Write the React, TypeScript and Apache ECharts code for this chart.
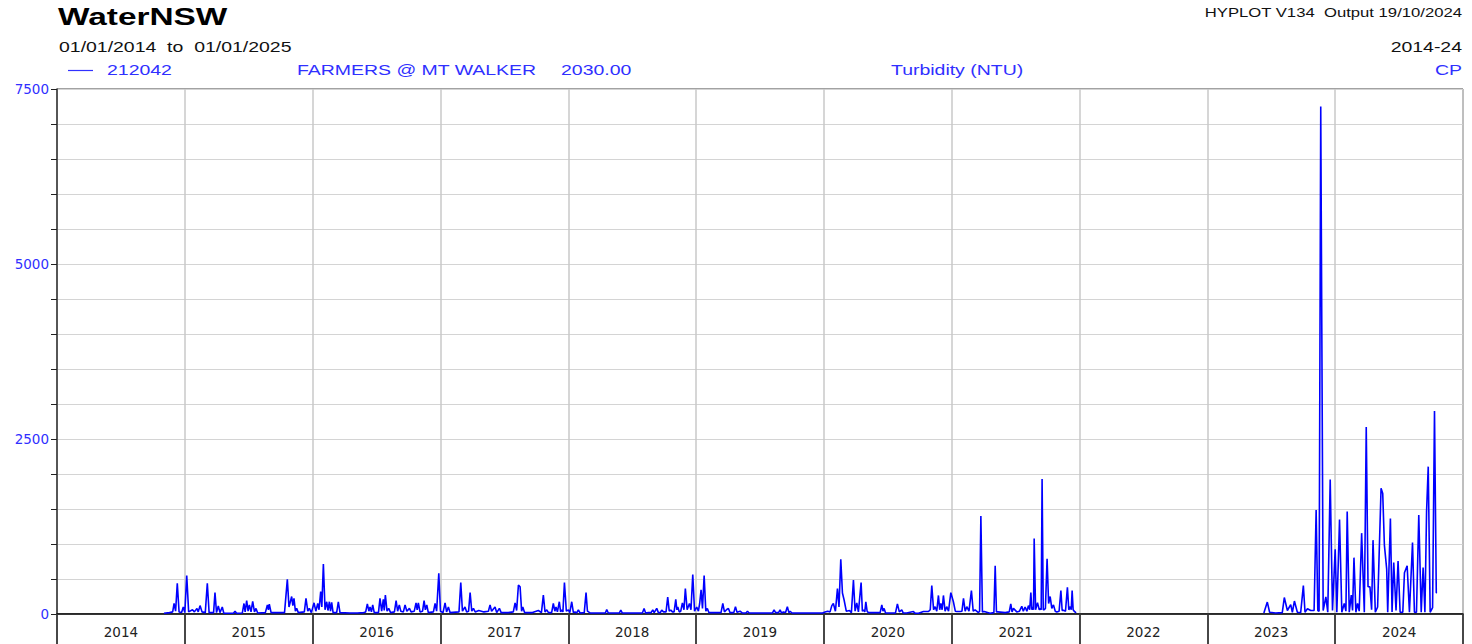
import React, { useEffect, useRef } from 'react';
import * as echarts from 'echarts';

// ---------- data (decimal year, turbidity NTU) ----------
const yearLabels = ['2014', '2015', '2016', '2017', '2018', '2019', '2020', '2021', '2022', '2023', '2024'];
const labelledTurbidity = [0, 2500, 5000, 7500];

const readings2014_2015: [number, number][] = [
  [2014.837, 10], [2014.88, 20], [2014.905, 30], [2014.916, 150], [2014.928, 40], [2014.941, 440],
  [2014.955, 30], [2014.975, 20], [2014.988, 100], [2015.0, 20], [2015.015, 550], [2015.03, 30],
  [2015.06, 60], [2015.075, 30], [2015.095, 80], [2015.105, 30], [2015.119, 120], [2015.135, 30],
  [2015.16, 20], [2015.176, 440], [2015.19, 20], [2015.225, 20], [2015.236, 305], [2015.248, 20],
  [2015.262, 115], [2015.275, 20], [2015.293, 100], [2015.305, 10], [2015.38, 10], [2015.393, 40],
  [2015.405, 10], [2015.45, 15], [2015.463, 150], [2015.472, 30], [2015.484, 190], [2015.495, 40],
  [2015.505, 130], [2015.518, 30], [2015.531, 180], [2015.545, 30], [2015.557, 80], [2015.57, 15],
  [2015.63, 20], [2015.646, 130], [2015.654, 60], [2015.661, 140], [2015.675, 20], [2015.78, 20],
  [2015.802, 495], [2015.815, 100], [2015.836, 250], [2015.845, 120], [2015.854, 225], [2015.865, 40],
  [2015.875, 80], [2015.888, 20], [2015.935, 30], [2015.948, 225], [2015.962, 40], [2015.974, 80],
  [2015.99, 20],
];

const readings2016_2017: [number, number][] = [
  [2016.011, 160], [2016.025, 40], [2016.04, 150], [2016.05, 60], [2016.063, 320], [2016.072, 100],
  [2016.084, 715], [2016.097, 60], [2016.11, 175], [2016.12, 50], [2016.131, 175], [2016.14, 40],
  [2016.149, 165], [2016.16, 20], [2016.188, 20], [2016.201, 175], [2016.214, 20], [2016.29, 15],
  [2016.35, 15], [2016.4, 20], [2016.415, 30], [2016.428, 145], [2016.44, 40], [2016.449, 100],
  [2016.46, 30], [2016.47, 130], [2016.482, 20], [2016.515, 20], [2016.527, 225], [2016.54, 40],
  [2016.553, 210], [2016.56, 50], [2016.569, 270], [2016.582, 40], [2016.595, 80], [2016.61, 20],
  [2016.64, 30], [2016.653, 190], [2016.665, 40], [2016.678, 130], [2016.69, 40], [2016.71, 30],
  [2016.723, 130], [2016.737, 40], [2016.757, 80], [2016.77, 30], [2016.795, 40], [2016.809, 160],
  [2016.818, 60], [2016.827, 160], [2016.84, 30], [2016.86, 40], [2016.872, 190], [2016.882, 60],
  [2016.893, 130], [2016.905, 20], [2016.945, 30], [2016.958, 150], [2016.97, 40], [2016.987, 580],
  [2017.0, 40], [2017.02, 20], [2017.036, 160], [2017.048, 30], [2017.062, 100], [2017.075, 20],
  [2017.145, 30], [2017.159, 450], [2017.172, 40], [2017.192, 100], [2017.205, 30], [2017.22, 40],
  [2017.232, 305], [2017.245, 40], [2017.258, 80], [2017.272, 30], [2017.3, 50], [2017.34, 30],
  [2017.375, 40], [2017.388, 130], [2017.4, 40], [2017.427, 100], [2017.44, 20], [2017.461, 80],
  [2017.475, 20], [2017.53, 20], [2017.57, 30], [2017.584, 160], [2017.596, 50], [2017.61, 415],
  [2017.623, 390], [2017.635, 40], [2017.644, 100], [2017.658, 20], [2017.72, 20], [2017.766, 50],
  [2017.79, 20], [2017.805, 270], [2017.818, 30], [2017.832, 60], [2017.845, 20], [2017.87, 20],
  [2017.883, 150], [2017.895, 40], [2017.904, 100], [2017.915, 30], [2017.93, 175], [2017.94, 30],
  [2017.949, 60], [2017.958, 30], [2017.97, 450], [2017.985, 40],
];

const readings2018_2019: [number, number][] = [
  [2018.001, 60], [2018.012, 20], [2018.027, 175], [2018.04, 20], [2018.053, 30], [2018.066, 15],
  [2018.079, 60], [2018.092, 15], [2018.125, 20], [2018.139, 305], [2018.15, 40], [2018.17, 15],
  [2018.223, 15], [2018.29, 15], [2018.301, 65], [2018.313, 15], [2018.353, 15], [2018.4, 15],
  [2018.411, 55], [2018.422, 15], [2018.51, 15], [2018.58, 15], [2018.593, 80], [2018.605, 15],
  [2018.627, 20], [2018.648, 20], [2018.661, 60], [2018.672, 20], [2018.692, 80], [2018.705, 20],
  [2018.72, 20], [2018.731, 55], [2018.745, 30], [2018.765, 30], [2018.778, 240], [2018.79, 40],
  [2018.802, 55], [2018.815, 30], [2018.828, 30], [2018.841, 210], [2018.85, 60], [2018.857, 100],
  [2018.868, 30], [2018.88, 40], [2018.893, 160], [2018.905, 60], [2018.916, 365], [2018.93, 60],
  [2018.948, 150], [2018.96, 60], [2018.974, 565], [2018.988, 40], [2019.005, 100], [2019.018, 40],
  [2019.028, 150], [2019.039, 345], [2019.05, 80], [2019.063, 550], [2019.076, 40], [2019.088, 80],
  [2019.1, 20], [2019.135, 20], [2019.195, 20], [2019.209, 150], [2019.222, 30], [2019.24, 65],
  [2019.253, 80], [2019.265, 20], [2019.279, 20], [2019.295, 20], [2019.308, 105], [2019.32, 25],
  [2019.344, 40], [2019.36, 15], [2019.39, 15], [2019.402, 40], [2019.415, 15], [2019.45, 15],
  [2019.5, 15], [2019.56, 15], [2019.598, 15], [2019.61, 60], [2019.622, 20], [2019.645, 20],
  [2019.657, 60], [2019.668, 15], [2019.683, 30], [2019.7, 20], [2019.714, 105], [2019.726, 20],
  [2019.736, 40], [2019.75, 15], [2019.81, 15], [2019.9, 15], [2019.99, 15],
];

const readings2020_2021: [number, number][] = [
  [2020.009, 30], [2020.03, 40], [2020.048, 30], [2020.062, 120], [2020.074, 150], [2020.09, 40],
  [2020.106, 362], [2020.118, 100], [2020.132, 780], [2020.145, 300], [2020.158, 200], [2020.175, 40],
  [2020.2, 50], [2020.215, 20], [2020.231, 485], [2020.244, 40], [2020.257, 160], [2020.27, 30],
  [2020.291, 450], [2020.301, 40], [2020.31, 60], [2020.32, 30], [2020.328, 175], [2020.338, 40],
  [2020.348, 20], [2020.44, 20], [2020.453, 130], [2020.462, 40], [2020.471, 80], [2020.482, 15],
  [2020.56, 15], [2020.575, 145], [2020.59, 30], [2020.609, 60], [2020.62, 15], [2020.648, 15],
  [2020.7, 35], [2020.715, 10], [2020.74, 10], [2020.779, 35], [2020.818, 35], [2020.832, 60],
  [2020.844, 405], [2020.858, 60], [2020.87, 105], [2020.883, 40], [2020.896, 265], [2020.906, 60],
  [2020.915, 150], [2020.925, 60], [2020.935, 265], [2020.948, 40], [2020.961, 105], [2020.975, 40],
  [2020.993, 305], [2021.013, 175], [2021.028, 40], [2021.04, 35], [2021.066, 35], [2021.08, 40],
  [2021.092, 225], [2021.105, 40], [2021.118, 105], [2021.135, 40], [2021.154, 335], [2021.168, 40],
  [2021.183, 60], [2021.209, 20], [2021.218, 40], [2021.228, 1400], [2021.24, 30], [2021.254, 35],
  [2021.3, 10], [2021.33, 20], [2021.34, 690], [2021.35, 30], [2021.36, 30], [2021.418, 20],
  [2021.45, 30], [2021.462, 145], [2021.472, 30], [2021.483, 80], [2021.509, 30], [2021.53, 40],
  [2021.548, 110], [2021.56, 40], [2021.574, 100], [2021.588, 40], [2021.6, 120], [2021.61, 60],
  [2021.619, 305], [2021.627, 60], [2021.634, 100], [2021.64, 60], [2021.645, 1080], [2021.656, 60],
  [2021.671, 160], [2021.685, 60], [2021.692, 80], [2021.7, 60], [2021.707, 1930], [2021.716, 60],
  [2021.723, 60], [2021.733, 80], [2021.746, 790], [2021.758, 150], [2021.77, 250], [2021.783, 80],
  [2021.796, 130], [2021.81, 40], [2021.822, 30], [2021.84, 40], [2021.854, 335], [2021.864, 50],
  [2021.874, 55], [2021.89, 40], [2021.905, 380], [2021.916, 60], [2021.928, 105], [2021.935, 60],
  [2021.942, 335], [2021.95, 60], [2021.958, 40], [2021.973, 15],
];

const readings2023_2024: [number, number][] = [
  [2023.442, 15], [2023.469, 170], [2023.487, 25], [2023.534, 15], [2023.586, 20], [2023.602, 235],
  [2023.626, 50], [2023.652, 135], [2023.665, 25], [2023.681, 185], [2023.704, 25], [2023.73, 20],
  [2023.751, 405], [2023.764, 25], [2023.783, 75], [2023.809, 50], [2023.835, 50], [2023.851, 1485],
  [2023.864, 50], [2023.874, 40], [2023.887, 7250], [2023.906, 50], [2023.927, 245], [2023.942, 25],
  [2023.961, 1920], [2023.979, 50], [2024.0, 925], [2024.013, 25], [2024.034, 1350], [2024.052, 25],
  [2024.071, 150], [2024.084, 40], [2024.094, 1465], [2024.11, 25], [2024.126, 270], [2024.136, 50],
  [2024.147, 805], [2024.162, 25], [2024.175, 150], [2024.188, 40], [2024.207, 1155], [2024.228, 25],
  [2024.243, 2670], [2024.257, 390], [2024.272, 390], [2024.285, 60], [2024.296, 1055], [2024.314, 25],
  [2024.332, 100], [2024.359, 1795], [2024.372, 1720], [2024.385, 985], [2024.403, 640], [2024.411, 25],
  [2024.432, 1365], [2024.445, 30], [2024.458, 735], [2024.476, 50], [2024.492, 755], [2024.508, 25],
  [2024.529, 25], [2024.542, 590], [2024.563, 690], [2024.581, 25], [2024.605, 1020], [2024.62, 25],
  [2024.636, 25], [2024.654, 1415], [2024.673, 25], [2024.688, 665], [2024.702, 25], [2024.715, 1465],
  [2024.728, 2105], [2024.743, 25], [2024.762, 90], [2024.777, 2900], [2024.791, 305], [2024.796, 300],
];

// no record between the end of 2021 and mid 2023
const dataGap: [number, string][] = [[2022.5, '-']];

const SANS = '"Liberation Sans", Arial, Helvetica, sans-serif';
const WIDE_SANS = '"DejaVu Sans", "Liberation Sans", Arial, sans-serif';
const BLUE_TEXT = '#3030ff';
const STRETCH = 1.39;

function headerText(text: string, x: number, y: number, size: number, color: string, align = 'left', bold = false) {
  return {
    type: 'text',
    x,
    y,
    scaleX: STRETCH,
    silent: true,
    style: {
      text,
      font: `${bold ? 'bold ' : ''}${size}px ${SANS}`,
      fill: color,
      textAlign: align,
      textVerticalAlign: 'middle',
    },
  };
}

export default function App() {
  const ref = useRef<HTMLDivElement>(null);

  useEffect(() => {
    if (!ref.current) return;
    const chart = echarts.init(ref.current, null, { renderer: 'svg' });
    const seriesData = [
      ...readings2014_2015,
      ...readings2016_2017,
      ...readings2018_2019,
      ...readings2020_2021,
      ...dataGap,
      ...readings2023_2024,
    ];

    chart.setOption({
      animation: false,
      backgroundColor: '#ffffff',
      grid: {
        left: 57,
        right: 9,
        top: 89,
        bottom: 30,
        show: true,
        borderColor: '#444',
        borderWidth: 1,
        backgroundColor: 'transparent',
      },
      xAxis: [
        {
          type: 'value',
          min: 2014,
          max: 2025,
          interval: 1,
          axisLine: { show: true, onZero: false, lineStyle: { color: '#000', width: 1.5 } },
          axisTick: { show: false },
          axisLabel: { show: false },
          splitLine: { show: true, lineStyle: { color: '#c8c8c8', width: 1.5 } },
        },
        {
          type: 'category',
          position: 'bottom',
          data: yearLabels,
          boundaryGap: true,
          axisLine: { show: false },
          axisTick: { show: true, interval: 0, length: 30, lineStyle: { color: '#333', width: 1.8 } },
          axisLabel: {
            interval: 0,
            margin: 11,
            color: '#222',
            fontSize: 13.5,
            fontFamily: WIDE_SANS,
          },
          splitLine: { show: false },
        },
      ],
      yAxis: {
        type: 'value',
        min: 0,
        max: 7500,
        interval: 500,
        axisLine: { show: true, lineStyle: { color: '#333', width: 1.5 } },
        axisTick: { show: true, length: 6, lineStyle: { color: '#222', width: 1 } },
        axisLabel: {
          margin: 8,
          color: BLUE_TEXT,
          fontSize: 13.5,
          fontFamily: WIDE_SANS,
          formatter: (v: number) => (labelledTurbidity.includes(v) ? String(v) : ''),
        },
        splitLine: { show: true, lineStyle: { color: '#d4d4d4', width: 1 } },
      },
      series: [
        {
          name: '212042',
          type: 'line',
          xAxisIndex: 0,
          data: seriesData,
          showSymbol: false,
          connectNulls: false,
          smooth: false,
          lineStyle: { color: '#0000ff', width: 1.6 },
          itemStyle: { color: '#0000ff' },
          z: 5,
        },
      ],
      graphic: [
        headerText('WaterNSW', 58, 16.5, 24, '#000', 'left', true),
        headerText('HYPLOT V134  Output 19/10/2024', 1462, 13, 12, '#111', 'right'),
        headerText('01/01/2014  to  01/01/2025', 59, 47.5, 14, '#111', 'left'),
        headerText('2014-24', 1462, 47.5, 14, '#111', 'right'),
        {
          type: 'line',
          silent: true,
          shape: { x1: 68, y1: 70.5, x2: 93, y2: 70.5 },
          style: { stroke: BLUE_TEXT, lineWidth: 1.2 },
        },
        headerText('212042', 107, 70, 14, BLUE_TEXT, 'left'),
        headerText('FARMERS @ MT WALKER', 297, 70, 14, BLUE_TEXT, 'left'),
        headerText('2030.00', 561, 70, 14, BLUE_TEXT, 'left'),
        headerText('Turbidity (NTU)', 891, 70, 14, BLUE_TEXT, 'left'),
        headerText('CP', 1462, 70, 14, BLUE_TEXT, 'right'),
      ],
    });

    return () => chart.dispose();
  }, []);

  return (
    <div
      ref={ref}
      style={{ position: 'fixed', left: 0, top: 0, width: 1472, height: 644, background: '#fff' }}
    />
  );
}
